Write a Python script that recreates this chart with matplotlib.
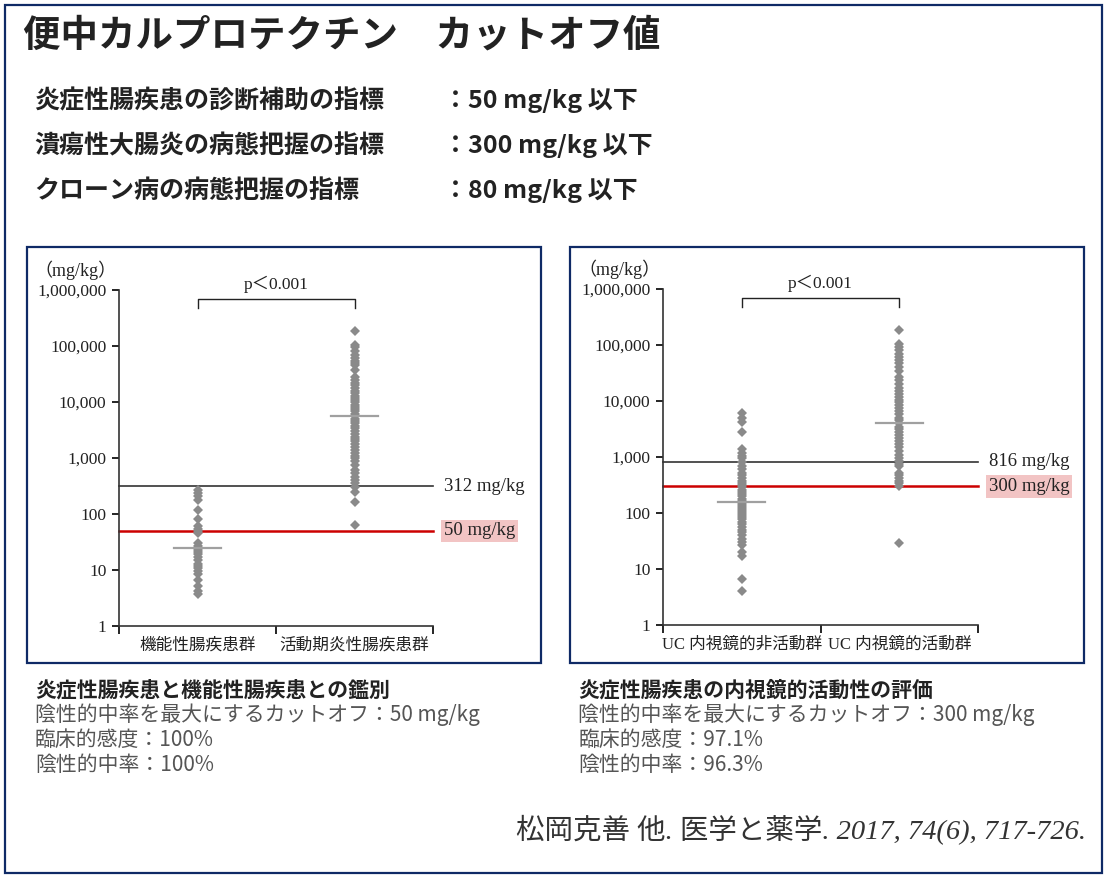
import matplotlib
matplotlib.use("Agg")
import matplotlib.pyplot as plt
from matplotlib.patches import Rectangle

plt.rcParams['font.family'] = ['Noto Sans CJK JP', 'DejaVu Sans']

# ---- data ----
title = "便中カルプロテクチン　カットオフ値"
index_names = ["炎症性腸疾患の診断補助の指標", "潰瘍性大腸炎の病態把握の指標", "クローン病の病態把握の指標"]
index_values = ["：50 mg/kg 以下", "：300 mg/kg 以下", "：80 mg/kg 以下"]

left_groups = ["機能性腸疾患群", "活動期炎性腸疾患群"]
fbd = [270, 240, 210, 175, 120, 80, 62, 55, 50, 45, 30, 27, 25, 23, 21, 19, 17,
       15, 13, 12, 11, 9.5, 8.5, 6.5, 5.2, 4.3, 3.7]
active_ibd = [185000, 105000, 95000, 80000, 70000, 62000, 55000, 50000, 45000, 38000,
              28000, 25000, 22000, 20000, 18000, 16000, 14500, 13000, 12000, 11000,
              10000, 9000, 8200, 7500, 6800, 6200, 5600, 5000, 4600, 4200, 3800, 3400,
              3000, 2700, 2400, 2200, 2000, 1800, 1600, 1400, 1250, 1100, 1000, 900,
              750, 620, 540, 460, 400, 360, 300, 245, 163, 63]
left_medians = [25, 5600]
left_cut_black = 312
left_cut_red = 50

right_groups = ["UC 内視鏡的非活動群", "UC 内視鏡的活動群"]
uc_inactive = [6100, 5000, 4300, 2800, 1400, 1200, 1050, 950, 800, 700, 600, 520,
               470, 420, 380, 350, 320, 290, 260, 240, 220, 200, 180, 165, 150, 140,
               130, 120, 110, 100, 92, 85, 78, 70, 63, 57, 50, 45, 40, 35, 30, 27,
               20, 17, 6.5, 4.1]
uc_active = [185000, 105000, 92000, 80000, 68000, 60000, 55000, 48000, 40000, 35000,
             27000, 24000, 20000, 17000, 15000, 13500, 12000, 10500, 9500, 8500, 7500,
             6500, 5800, 5000, 4500, 4000, 3500, 3100, 2800, 2500, 2200, 1900, 1700,
             1500, 1300, 1100, 950, 850, 750, 680, 520, 470, 420, 380, 340, 300, 29]
right_medians = [158, 4000]
right_cut_black = 816
right_cut_red = 300

yticks = [1, 10, 100, 1000, 10000, 100000, 1000000]
ytick_labels = ["1", "10", "100", "1,000", "10,000", "100,000", "1,000,000"]

left_notes = ["炎症性腸疾患と機能性腸疾患との鑑別",
              "陰性的中率を最大にするカットオフ：50 mg/kg",
              "臨床的感度：100%",
              "陰性的中率：100%"]
right_notes = ["炎症性腸疾患の内視鏡的活動性の評価",
               "陰性的中率を最大にするカットオフ：300 mg/kg",
               "臨床的感度：97.1%",
               "陰性的中率：96.3%"]
citation = "松岡克善 他. 医学と薬学. 2017, 74(6), 717-726."

W, H = 1106, 875
navy = "#0f2a66"
serif = ['Liberation Serif', 'Noto Sans CJK JP']

fig = plt.figure(figsize=(W / 100, H / 100), dpi=100)


def fx(px):
    return px / W


def fy(py):
    return 1 - py / H


# borders
fig.patches.append(Rectangle((fx(5), fy(873)), fx(1097), 868 / H, transform=fig.transFigure,
                             fill=False, edgecolor=navy, linewidth=1.6))
fig.patches.append(Rectangle((fx(27), fy(663)), fx(514), 416 / H, transform=fig.transFigure,
                             fill=False, edgecolor=navy, linewidth=1.6))
fig.patches.append(Rectangle((fx(570), fy(663)), fx(514), 416 / H, transform=fig.transFigure,
                             fill=False, edgecolor=navy, linewidth=1.6))

# heading
fig.text(fx(23), fy(35), title, fontsize=27, fontweight='bold', color="#222222", va='center')
for i in range(3):
    yy = fy(101 + i * 45)
    fig.text(fx(34), yy, index_names[i], fontsize=18, fontweight='bold', color="#222222", va='center')
    fig.text(fx(443), yy, index_values[i], fontsize=18, fontweight='bold', color="#222222", va='center')


def draw_panel(ax, groups, vals_a, vals_b, medians, cut_black, cut_red):
    xs = [0.5, 1.5]
    for x, vals in zip(xs, [vals_a, vals_b]):
        ax.plot([x] * len(vals), vals, linestyle='none', marker='D', markersize=5.5,
                color="#8a8a8a", markeredgewidth=0, zorder=3)
    for x, m in zip(xs, medians):
        ax.plot([x - 0.15, x + 0.15], [m, m], color="#a0a0a0", lw=1.6, zorder=4)
    ax.plot([0, 2], [cut_black, cut_black], color="#333333", lw=1.2, zorder=2, clip_on=False)
    ax.plot([0, 2], [cut_red, cut_red], color="#cc0000", lw=1.8, zorder=2, clip_on=False)
    ax.text(2.07, cut_black, f"{cut_black} mg/kg", family=serif, fontsize=13.5, va='center', ha='left',
            color="#222222")
    ax.text(2.07, cut_red, f"{cut_red} mg/kg", family=serif, fontsize=13.5, va='center', ha='left',
            color="#222222", bbox=dict(boxstyle='square,pad=0.15', facecolor="#f2c4c4", edgecolor='none'))
    ax.set_yscale('log')
    ax.set_ylim(1, 1000000)
    ax.set_xlim(0, 2)
    ax.set_yticks(yticks)
    ax.set_yticklabels(ytick_labels, family=serif, fontsize=12.5, color="#222222")
    ax.minorticks_off()
    ax.set_xticks([0, 1, 2])
    ax.set_xticklabels([])
    ax.tick_params(axis='y', direction='out', length=5, width=1.2, pad=4)
    ax.tick_params(axis='x', direction='out', length=6, width=1.2)
    for x, g in zip(xs, groups):
        ax.text(x, -0.035, g, transform=ax.get_xaxis_transform(), family=serif, fontsize=12,
                ha='center', va='top', color="#222222")
    for s in ['top', 'right']:
        ax.spines[s].set_visible(False)
    for s in ['left', 'bottom']:
        ax.spines[s].set_linewidth(1.2)
        ax.spines[s].set_color("#333333")
    # bracket
    ax.plot([0.5, 0.5, 1.5, 1.5], [470000, 690000, 690000, 470000], color="#222222", lw=1.0,
            clip_on=False)
    ax.text(1.0, 870000, "p＜0.001", family=serif, fontsize=12.5, ha='center', va='bottom',
            color="#222222")
    ax.text(-0.27, 1.03, "（mg/kg）", transform=ax.transAxes, family=serif, fontsize=13,
            ha='left', va='bottom', color="#222222")


ax1 = fig.add_axes([fx(119), fy(626), fx(314), 336 / H])
draw_panel(ax1, left_groups, fbd, active_ibd, left_medians, left_cut_black, left_cut_red)

ax2 = fig.add_axes([fx(663), fy(625), fx(315), 336 / H])
draw_panel(ax2, right_groups, uc_inactive, uc_active, right_medians, right_cut_black, right_cut_red)

# notes under the charts
for x0, notes in [(35, left_notes), (578, right_notes)]:
    for i, line in enumerate(notes):
        if i == 0:
            fig.text(fx(x0), fy(690), line, fontsize=15, fontweight='bold', color="#222222", va='center')
        else:
            fig.text(fx(x0), fy(690 + 25 * i), line, fontsize=15, color="#555555", va='center')

fig.text(fx(1086), fy(830), citation, family=serif, style='italic', fontsize=20.5,
         color="#333333", ha='right', va='center')

fig.savefig("out.png", dpi=100)
